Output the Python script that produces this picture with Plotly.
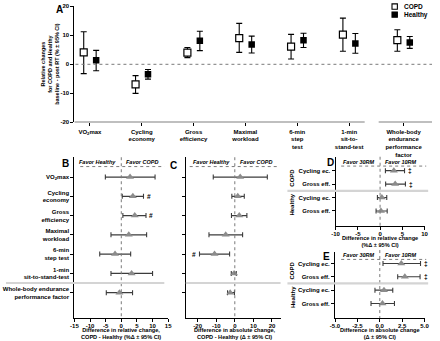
import plotly.graph_objects as go

W, H = 440, 341
def fx(px): return px / W
def fy(py): return 1 - py / H

FONT = "Liberation Sans, Arial, sans-serif"

# ---------------- Panel A data ----------------
a_categories = ["VO<sub>2</sub>max", "Cycling<br>economy", "Gross<br>efficiency", "Maximal<br>workload",
                "6-min<br>step<br>test", "1-min<br>sit-to-<br>stand-test",
                "Whole-body<br>endurance<br>performance<br>factor"]
a_positions = [0, 1, 2, 3, 4, 5, 6.05]
copd_mean = [4.1, -6.9, 4.0, 9.0, 6.1, 10.2, 8.3]
copd_lo = [-3.2, -10.0, 2.3, 4.1, 1.8, 4.5, 4.5]
copd_hi = [11.2, -3.9, 5.8, 14.1, 10.3, 15.9, 11.9]
healthy_mean = [1.4, -3.4, 8.1, 6.8, 8.3, 7.2, 7.5]
healthy_lo = [-2.2, -5.1, 4.7, 3.9, 5.8, 3.8, 5.5]
healthy_hi = [4.8, -1.8, 11.4, 9.7, 10.7, 10.6, 9.6]
a_yticks = [-20, -10, 0, 10, 20]

# ---------------- Panel B / C data ----------------
bc_labels = ["VO<sub>2</sub>max", "Cycling<br>economy", "Gross<br>efficiency", "Maximal<br>workload",
             "6-min<br>step test", "1-min<br>sit-to-stand-test",
             "Whole-body endurance<br>performance factor"]
b_mean = [2.8, 3.7, 4.3, 2.4, -2.0, 3.3, -0.6]
b_lo = [-5.1, 0.3, 0.5, -3.3, -6.9, -3.3, -4.8]
b_hi = [10.8, 7.1, 7.9, 8.1, 3.0, 10.0, 3.6]
b_sig = ["", "#", "#", "", "", "", ""]
b_xticks = [-15, -10, -5, 0, 5, 10, 15]

c_mean = [2.9, 1.6, 2.4, -4.9, -10.9, -0.4, -2.5]
c_lo = [-11.6, -1.6, -1.8, -13.9, -19.0, -1.9, -3.9]
c_hi = [17.5, 5.1, 6.5, 4.2, -2.8, 0.8, -0.2]
c_sig = ["", "", "", "", "#", "", ""]
c_xticks = [-20, -10, 0, 10, 20]

# ---------------- Panel D / E data ----------------
de_labels = ["Cycling ec.", "Gross eff.", "Cycling ec.", "Gross eff."]
de_groups = ["COPD", "Healthy"]
d_mean = [3.1, 3.4, 0.4, 0.2]
d_lo = [1.2, 1.25, -0.6, -0.9]
d_hi = [5.5, 5.7, 1.5, 1.6]
d_sig = ["‡", "‡", "", ""]
d_xticks = [-10, -5, 0, 5, 10]

e_mean = [2.4, 2.8, 0.47, 0.3]
e_lo = [0.36, 2.0, -0.54, -0.98]
e_hi = [4.55, 4.5, 1.45, 1.64]
e_sig = ["‡", "‡", "", ""]
e_xticks = [-5.0, -2.5, 0.0, 2.5, 5.0]


def lbl(v, fmt="{:g}"):
    return fmt.format(v).replace("−", "-")


fig = go.Figure()

# ---------- Panel A traces ----------
off = 0.12
fig.add_trace(go.Scatter(
    x=[p - off for p in a_positions], y=copd_mean, mode="markers", name="COPD",
    marker=dict(symbol="square", size=7, color="white", line=dict(color="black", width=1.2)),
    error_y=dict(type="data", symmetric=False,
                 array=[h - m for h, m in zip(copd_hi, copd_mean)],
                 arrayminus=[m - l for m, l in zip(copd_mean, copd_lo)],
                 color="black", thickness=1.1, width=3),
    xaxis="x", yaxis="y", showlegend=False))
fig.add_trace(go.Scatter(
    x=[p + off for p in a_positions], y=healthy_mean, mode="markers", name="Healthy",
    marker=dict(symbol="square", size=6.5, color="black", line=dict(color="black", width=0)),
    error_y=dict(type="data", symmetric=False,
                 array=[h - m for h, m in zip(healthy_hi, healthy_mean)],
                 arrayminus=[m - l for m, l in zip(healthy_mean, healthy_lo)],
                 color="black", thickness=1.1, width=3),
    xaxis="x", yaxis="y", showlegend=False))


def forest(mean, lo, hi, xa, ya):
    rows = list(range(len(mean)))
    fig.add_trace(go.Scatter(
        x=mean, y=rows, mode="markers",
        marker=dict(symbol="triangle-up", size=7, color="#8c8c8c", line=dict(width=0)),
        error_x=dict(type="data", symmetric=False,
                     array=[h - m for h, m in zip(hi, mean)],
                     arrayminus=[m - l for m, l in zip(mean, lo)],
                     color="#3c3c3c", thickness=1.1, width=2.5),
        xaxis=xa, yaxis=ya, showlegend=False))


forest(b_mean, b_lo, b_hi, "x2", "y2")
forest(c_mean, c_lo, c_hi, "x3", "y3")
forest(d_mean, d_lo, d_hi, "x4", "y4")
forest(e_mean, e_lo, e_hi, "x5", "y5")

tickfont = dict(family=FONT, size=6, color="black", weight="bold")
common = dict(showgrid=False, zeroline=False, ticks="outside", ticklen=3, tickwidth=1.1,
              tickcolor="black", linecolor="black", linewidth=1.2, tickfont=tickfont,
              fixedrange=True)
xcommon = dict(common, ticklabelstandoff=-1)

layout = dict(
    width=W, height=H, autosize=False,
    margin=dict(l=0, r=0, t=0, b=0),
    paper_bgcolor="white", plot_bgcolor="rgba(0,0,0,0)",
    font=dict(family=FONT, size=6, color="black", weight="bold"),
    showlegend=False,
    # Panel A
    xaxis=dict(domain=[fx(71), fx(437)], range=[-0.30, 6.6], anchor="y",
               tickvals=a_positions, ticktext=a_categories, showline=False, **common),
    yaxis=dict(domain=[fy(121.5), fy(3.3)], range=[-20, 20], anchor="x",
               tickvals=a_yticks, ticktext=[lbl(v) for v in a_yticks], showline=True, **common),
    # Panel B
    xaxis2=dict(domain=[fx(71), fx(167)], range=[-15, 15], anchor="y2",
                tickvals=b_xticks, ticktext=[lbl(v) for v in b_xticks], showline=True, **xcommon),
    yaxis2=dict(domain=[fy(320.7), fy(157)], range=[7.32, -1.03], anchor="x2",
                tickvals=list(range(7)), ticktext=bc_labels, showline=True, **common),
    # Panel C
    xaxis3=dict(domain=[fx(185.7), fx(282.7)], range=[-26, 25], anchor="y3",
                tickvals=c_xticks, ticktext=[lbl(v) for v in c_xticks], showline=True, **xcommon),
    yaxis3=dict(domain=[fy(320.7), fy(157)], range=[7.32, -1.03], anchor="x3",
                tickvals=list(range(7)), showticklabels=False, showline=True, **common),
    # Panel D
    xaxis4=dict(domain=[fx(338.3), fx(429.3)], range=[-10, 10], anchor="y4",
                tickvals=d_xticks, ticktext=[lbl(v) for v in d_xticks], showline=True, **xcommon),
    yaxis4=dict(domain=[fy(226.7), fy(157)], range=[4.1, -1.0], anchor="x4",
                tickvals=list(range(4)), ticktext=de_labels, showline=True, **common),
    # Panel E
    xaxis5=dict(domain=[fx(337.7), fx(429.3)], range=[-5, 5], anchor="y5",
                tickvals=e_xticks, ticktext=[lbl(v, "{:.1f}") for v in e_xticks], showline=True, **xcommon),
    yaxis5=dict(domain=[fy(320.7), fy(253)], range=[4.1, -0.9], anchor="x5",
                tickvals=list(range(4)), ticktext=de_labels, showline=True, **common),
)
fig.update_layout(**layout)

shapes = []
ann = []

DOT = dict(color="#7a7a7a", width=1, dash="dot")
SEP = dict(color="#d4d4d4", width=2.2)
AX = dict(color="black", width=1.2)

# Panel A: broken x axis + zero line
shapes.append(dict(type="line", xref="x", yref="y", x0=-0.30, x1=5.30, y0=-20, y1=-20, line=AX))
shapes.append(dict(type="line", xref="x", yref="y", x0=5.57, x1=6.6, y0=-20, y1=-20, line=AX))
shapes.append(dict(type="line", xref="x", yref="y", x0=-0.28, x1=6.6, y0=0, y1=0, line=DOT))

# Legend for A
for i, (name, fill) in enumerate([("COPD", "white"), ("Healthy", "black")]):
    cy = 3.6 + i * 8.2
    shapes.append(dict(type="rect", xref="paper", yref="paper",
                       x0=fx(396), x1=fx(401.5), y0=fy(cy + 2.7), y1=fy(cy - 2.7),
                       line=dict(color="black", width=1.1), fillcolor=fill))
    ann.append(dict(text=name, x=fx(406), y=fy(cy), xref="paper", yref="paper",
                    xanchor="left", yanchor="middle", showarrow=False,
                    font=dict(family=FONT, size=6.5, color="black", weight="bold")))

# A y title
ann.append(dict(text="Relative changes<br>for COPD and Healthy<br>baseline - post RT (% ± 95% CI)",
                x=fx(46), y=fy(62), xref="paper", yref="paper", textangle=-90,
                xanchor="center", yanchor="middle", showarrow=False,
                font=dict(family=FONT, size=5.5, color="black", weight="bold")))

# Panel letters
for letter, px, py in [("A", 56, 7), ("B", 62, 163), ("C", 172, 165), ("D", 333, 162), ("E", 329, 258)]:
    ann.append(dict(text=letter, x=fx(px), y=fy(py), xref="paper", yref="paper",
                    xanchor="center", yanchor="middle", showarrow=False,
                    font=dict(family=FONT, size=10, color="black", weight="bold")))

hfont = dict(family=FONT, size=5.5, color="black", weight="bold", style="italic")


def header(xa, left_txt, right_txt, py, x_lo_px, x_hi_px, y_bottom_px):
    ann.append(dict(text=left_txt, x=0, y=fy(py), xref=xa, yref="paper", xanchor="right",
                    yanchor="middle", xshift=-3, showarrow=False, font=hfont))
    ann.append(dict(text=right_txt, x=0, y=fy(py), xref=xa, yref="paper", xanchor="left",
                    yanchor="middle", xshift=3, showarrow=False, font=hfont))
    shapes.append(dict(type="line", xref="paper", yref="paper", x0=fx(x_lo_px), x1=fx(x_hi_px),
                       y0=fy(py + 4.5), y1=fy(py + 4.5), line=DOT))
    shapes.append(dict(type="line", xref=xa, yref="paper", x0=0, x1=0,
                       y0=fy(py - 5), y1=fy(y_bottom_px), line=DOT))


header("x2", "Favor Healthy", "Favor COPD", 162, 77, 163, 320.7)
header("x3", "Favor Healthy", "Favor COPD", 162, 189, 280, 320.7)
header("x4", "Favor 30RM", "Favor 10RM", 161.5, 344, 431, 226.7)
header("x5", "Favor 30RM", "Favor 10RM", 256.5, 344, 431, 320.7)

# separators
shapes.append(dict(type="line", xref="paper", yref="y2", x0=fx(1), x1=fx(163), y0=5.5, y1=5.5, line=SEP))
shapes.append(dict(type="line", xref="paper", yref="y3", x0=fx(185), x1=fx(282), y0=5.5, y1=5.5, line=SEP))
shapes.append(dict(type="line", xref="paper", yref="y4", x0=fx(289), x1=fx(433), y0=1.5, y1=1.5, line=SEP))
shapes.append(dict(type="line", xref="paper", yref="y5", x0=fx(289), x1=fx(433), y0=1.5, y1=1.5, line=SEP))

# significance marks
sfont = dict(family=FONT, size=6.5, color="black", weight="bold")
for xa, ya, sig, lo, hi in [("x2", "y2", b_sig, b_lo, b_hi), ("x3", "y3", c_sig, c_lo, c_hi),
                            ("x4", "y4", d_sig, d_lo, d_hi), ("x5", "y5", e_sig, e_lo, e_hi)]:
    for i, s in enumerate(sig):
        if not s:
            continue
        if hi[i] > 0:
            ann.append(dict(text=s, x=hi[i], y=i, xref=xa, yref=ya, xanchor="left", yanchor="middle",
                            xshift=1.5, showarrow=False, font=sfont))
        else:
            ann.append(dict(text=s, x=lo[i], y=i, xref=xa, yref=ya, xanchor="right", yanchor="middle",
                            xshift=-1.5, showarrow=False, font=sfont))

# group labels D / E
gfont = dict(family=FONT, size=6, color="black", weight="bold")
for ya in ["y4", "y5"]:
    for g, yc in zip(de_groups, [0.5, 2.5]):
        ann.append(dict(text=g, x=fx(294), y=yc, xref="paper", yref=ya, textangle=-90,
                        xanchor="center", yanchor="middle", showarrow=False, font=gfont))

# axis titles
tfont = dict(family=FONT, size=5.6, color="black", weight="bold")
for xa, txt, py in [("x2", "Difference in relative change,<br>COPD - Healthy (%Δ ± 95% CI)", 336.5),
                    ("x3", "Difference in absolute change,<br>COPD - Healthy (Δ ± 95% CI)", 336.5),
                    ("x4", "Difference in relative change<br>(%Δ ± 95% CI)", 242.5),
                    ("x5", "Difference in absolute change<br>(Δ ± 95% CI)", 336.5)]:
    ann.append(dict(text=txt, x=0, y=fy(py), xref=xa, yref="paper", xanchor="center",
                    yanchor="middle", showarrow=False, font=tfont))

fig.update_layout(shapes=shapes, annotations=ann)
fig.write_html("out.html", config={"displayModeBar": False},
               post_script="document.body.style.margin='0';document.body.style.overflow='hidden';")
